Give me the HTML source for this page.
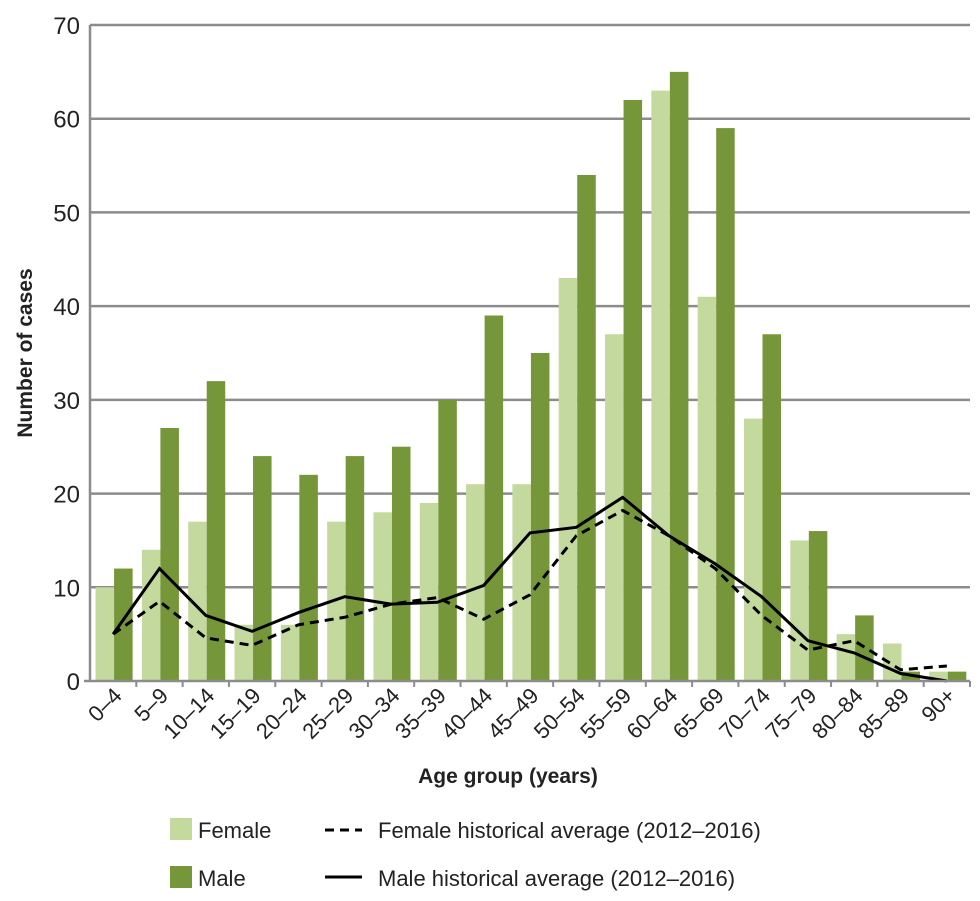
<!DOCTYPE html>
<html><head><meta charset="utf-8"><style>
body{margin:0;background:#fff;}
svg{display:block;font-family:"Liberation Sans",sans-serif;}
</style></head><body>
<svg id="chart" width="980" height="901">
<g id="grid"></g><g id="bars"></g><g id="lines"></g><g id="axes"></g>
<text x="0" y="0" transform="translate(32,353) rotate(-90)" text-anchor="middle" font-size="21" font-weight="bold" fill="#222">Number of cases</text>
<text x="508" y="783" text-anchor="middle" font-size="21" font-weight="bold" fill="#222">Age group (years)</text>
<g>
<rect x="170" y="818" width="22" height="22" fill="#c4d99e"/>
<text x="198" y="838" font-size="22" fill="#222">Female</text>
<rect x="170" y="866" width="22" height="22" fill="#76963a"/>
<text x="198" y="886" font-size="22" fill="#222">Male</text>
<line x1="325" y1="830" x2="362" y2="830" stroke="#000" stroke-width="3" stroke-dasharray="9,6"/>
<text x="378" y="838" font-size="22" fill="#222">Female historical average (2012–2016)</text>
<line x1="325" y1="877" x2="362" y2="877" stroke="#000" stroke-width="3"/>
<text x="378" y="886" font-size="22" fill="#222">Male historical average (2012–2016)</text>
</g>
</svg>
<script>
const categories=["0–4","5–9","10–14","15–19","20–24","25–29","30–34","35–39","40–44","45–49","50–54","55–59","60–64","65–69","70–74","75–79","80–84","85–89","90+"];
const femaleValues=[10,14,17,6,6,17,18,19,21,21,43,37,63,41,28,15,5,4,1];
const maleValues=[12,27,32,24,22,24,25,30,39,35,54,62,65,59,37,16,7,1,1];
const femaleAvg=[5,8.5,4.6,3.8,6,6.8,8.2,8.9,6.6,9.2,15.5,18.2,15.5,12,7,3.3,4.3,1.2,1.6];
const maleAvg=[5,12,7,5.3,7.3,9,8.2,8.4,10.2,15.8,16.4,19.6,15.5,12.5,9,4.3,3,0.8,0];
const yTicks=[0,10,20,30,40,50,60,70];
const NS="http://www.w3.org/2000/svg";
const L=90,R=970,T=25,B=681,yMax=70;
const cw=(R-L)/categories.length;
const y=v=>B-(B-T)*v/yMax;
const xc=i=>L+cw*(i+0.5);
function mk(t,a,p){const e=document.createElementNS(NS,t);for(const k in a)e.setAttribute(k,a[k]);p.appendChild(e);return e;}
const grid=document.getElementById('grid'),bars=document.getElementById('bars'),lines=document.getElementById('lines'),axes=document.getElementById('axes');
yTicks.forEach(v=>{
  if(v>0){const g=mk('line',{x1:L,x2:R,y1:y(v),y2:y(v),stroke:'#8c8c8c','stroke-width':2.5},grid);
  
  }
  const t=mk('text',{x:L-10,y:y(v)+9,'text-anchor':'end','font-size':24,fill:'#222'},axes);t.textContent=v;
  
  
});
const bw=cw*0.4;
categories.forEach((c,i)=>{
  const x0=L+cw*i+cw*0.12;
  const f=mk('rect',{x:x0,y:y(femaleValues[i]),width:bw,height:B-y(femaleValues[i]),fill:'#c4d99e'},bars);
  
  
  const m=mk('rect',{x:x0+bw,y:y(maleValues[i]),width:bw,height:B-y(maleValues[i]),fill:'#76963a'},bars);
  
  
  const tk=mk('line',{x1:L+cw*(i+1),x2:L+cw*(i+1),y1:B,y2:B+6,stroke:'#8c8c8c','stroke-width':2},axes);
  
  
  const t=mk('text',{x:0,y:0,transform:`translate(${xc(i)+10},${B+16}) rotate(-45)`,'text-anchor':'end','font-size':22,fill:'#222'},axes);
  t.textContent=c;
  
  
});
const fp=mk('polyline',{points:femaleAvg.map((v,i)=>xc(i)+','+y(v)).join(' '),fill:'none',stroke:'#000','stroke-width':3,'stroke-dasharray':'9,6'},lines);


const mp=mk('polyline',{points:maleAvg.map((v,i)=>xc(i)+','+y(v)).join(' '),fill:'none',stroke:'#000','stroke-width':3},lines);


const ya=mk('line',{x1:L,x2:L,y1:T,y2:B,stroke:'#8c8c8c','stroke-width':2.5},axes);


const xa=mk('line',{x1:L-6,x2:R,y1:B,y2:B,stroke:'#8c8c8c','stroke-width':2.5},axes);


</script>
</body></html>
